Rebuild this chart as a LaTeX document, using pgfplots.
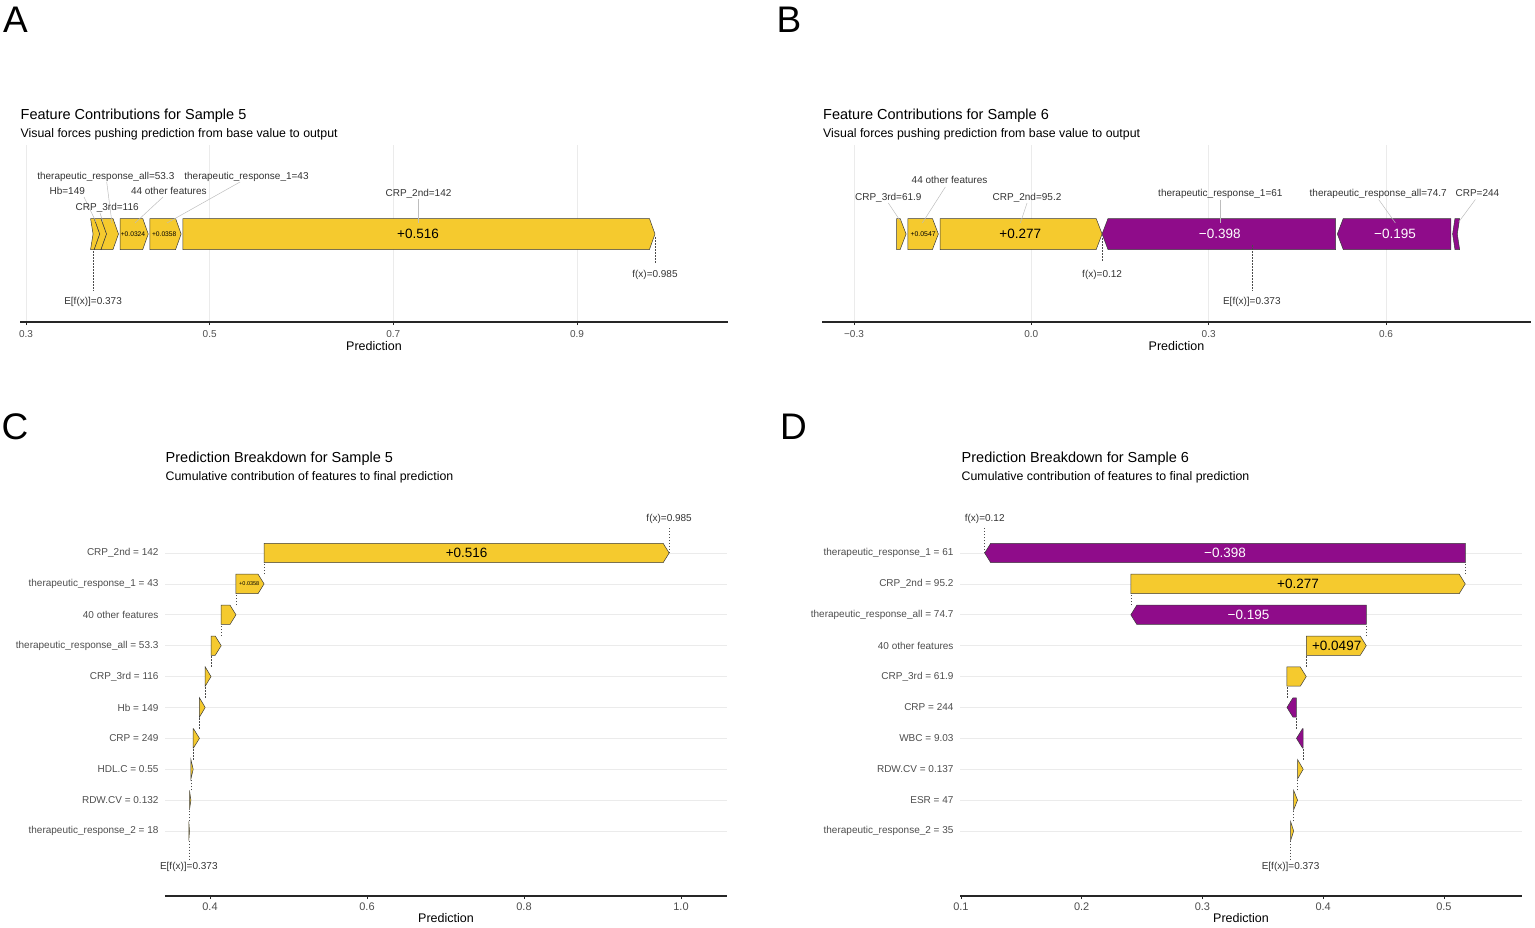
\documentclass[border=0pt]{standalone}
\usepackage{fontspec}
\setmainfont{Liberation Sans}
\usepackage{pgfplots}
\pgfplotsset{compat=1.18}

\definecolor{posc}{HTML}{F5CA2E}
\definecolor{negc}{HTML}{8F0C8A}
\definecolor{edgec}{HTML}{3A3A3A}
\definecolor{tickc}{HTML}{4D4D4D}
\definecolor{gridc}{HTML}{EBEBEB}
\definecolor{leadc}{HTML}{BDBDBD}

\newcommand\fsz[1]{\fontsize{#1}{#1}\selectfont}

% force plot segment pointing right: start, end, head, notch, gap at start
\newcommand\fpos[5]{%
  \pgfmathsetmacro\pa{#1+#5-#4}\pgfmathsetmacro\pc{#1+#5}\pgfmathsetmacro\pb{#2-#3}%
  \edef\tmp{\noexpand\addplot[fill=posc, draw=edgec, line width=0.5pt]
    coordinates {(\pa,-218.5) (\pb,-218.5) (#2,-234) (\pb,-249.5) (\pa,-249.5) (\pc,-234)} -- cycle;}\tmp}
% force plot segment pointing left: start (tip), end, head, notch, gap at end
\newcommand\fneg[5]{%
  \pgfmathsetmacro\pa{#1+#3}\pgfmathsetmacro\pb{#2-#5+#4}\pgfmathsetmacro\pc{#2-#5}%
  \edef\tmp{\noexpand\addplot[fill=negc, draw=edgec, line width=0.5pt]
    coordinates {(#1,-234) (\pa,-218.5) (\pb,-218.5) (\pc,-234) (\pb,-249.5) (\pa,-249.5)} -- cycle;}\tmp}
% waterfall bar: row, start, end, head, colour
\newcommand\wbar[5]{%
  \pgfmathsetmacro\wt{(#3>#2) ? (#3-min(#4,#3-#2)) : (#3+min(#4,#2-#3))}%
  \pgfmathsetmacro\wlo{#1-0.313}\pgfmathsetmacro\whi{#1+0.313}%
  \edef\tmp{\noexpand\addplot[fill=#5, draw=edgec, line width=0.5pt]
    coordinates {(#2,\wlo) (\wt,\wlo) (#3,#1) (\wt,\whi) (#2,\whi)} -- cycle;}\tmp}
% dotted link between row and row+1
\newcommand\wlink[2]{%
  \pgfmathsetmacro\wlo{#2+0.313}\pgfmathsetmacro\whi{#2+0.687}%
  \edef\tmp{\noexpand\addplot[dotc] coordinates {(#1,\wlo) (#1,\whi)};}\tmp}

\tikzset{lab/.style={font=\fsz{10}, text=black!80, inner sep=0pt, anchor=base},
  lead/.style={leadc, line width=0.5pt},
  dotc/.style={black!70, line width=0.6pt, dash pattern=on 1.5pt off 1.5pt}}

\pgfplotsset{
  panel/.style={
    scale only axis, anchor=south west, clip=false,
    axis x line*=bottom, axis y line*=left,
    y axis line style={draw=none}, ytick style={draw=none},
    x axis line style={line width=1.3pt, black!85},
    xtick style={black!85, line width=0.8pt},
    tick align=outside, major tick length=3pt,
    /pgf/number format/assume math mode=true,
    xlabel=Prediction,
    xlabel style={at={(axis description cs:0.5,0)}, anchor=base, font=\fsz{12.5}},
    grid style={gridc, line width=0.8pt},
  },
  force/.style={panel, xmajorgrids, ytick=\empty, height=177pt, width=708pt,
    ymin=-322, ymax=-145,
    xticklabel style={font=\fsz{10}, text=tickc, yshift=-1.5pt},
    xlabel style={yshift=-28.5pt}},
  water/.style={panel, ymajorgrids, ytick={0,...,9}, width=562pt, height=391pt,
    ymin=-2.104, ymax=10.554,
    xticklabel style={font=\fsz{11}, text=tickc},
    yticklabel style={font=\fsz{10}, text=tickc},
    xlabel style={yshift=-26.5pt}},
}

\begin{document}
\begin{tikzpicture}
\useasboundingbox (0,0) rectangle (1535pt,-927pt);

% ---------------- A ----------------
\begin{axis}[force, at={(20pt,-322pt)},
  xmin=0.29345, xmax=1.06444,
  xtick={0.3,0.5,0.7,0.9}, xticklabels={0.3,0.5,0.7,0.9}]
\fpos{0.3730}{0.3803}{0.0060}{0.0027}{0}
\fpos{0.3803}{0.3877}{0.0060}{0.0060}{0}
\fpos{0.3877}{0.4007}{0.0060}{0.0060}{0}
\fpos{0.4007}{0.4331}{0.0060}{0}{0.0018}
\fpos{0.4331}{0.4689}{0.0060}{0}{0.0018}
\fpos{0.4689}{0.9849}{0.0060}{0}{0.0018}
\node[font=\fsz{6.7}] at (axis cs:0.4165,-234) {+0.0324};
\node[font=\fsz{6.7}] at (axis cs:0.4505,-234) {+0.0358};
\node[font=\fsz{13.5}] at (axis cs:0.7269,-234) {+0.516};
\draw[lead] (axis cs:0.38787,-182) -- (axis cs:0.39364,-223);
\draw[lead] (axis cs:0.36315,-197) -- (axis cs:0.37622,-222);
\draw[lead] (axis cs:0.38057,-213) -- (axis cs:0.38384,-222);
\draw[lead] (axis cs:0.44918,-197) -- (axis cs:0.41869,-223);
\draw[lead] (axis cs:0.53303,-182) -- (axis cs:0.45353,-223);
\draw[lead] (axis cs:0.72741,-199) -- (axis cs:0.72741,-223);
\node[lab] at (axis cs:0.3869,-179.5) {therapeutic\_response\_all=53.3};
\node[lab] at (axis cs:0.3449,-194) {Hb=149};
\node[lab] at (axis cs:0.3884,-210.5) {CRP\_3rd=116};
\node[lab] at (axis cs:0.4555,-194) {44 other features};
\node[lab] at (axis cs:0.5401,-179.5) {therapeutic\_response\_1=43};
\node[lab] at (axis cs:0.7274,-196.5) {CRP\_2nd=142};
\draw[dotc] (axis cs:0.9849,-237) -- (axis cs:0.9849,-264);
\draw[dotc] (axis cs:0.373,-251) -- (axis cs:0.373,-291);
\node[lab] at (axis cs:0.9849,-277) {f(x)=0.985};
\node[lab] at (axis cs:0.373,-304) {E[f(x)]=0.373};
\end{axis}

% ---------------- B ----------------
\begin{axis}[force, at={(822pt,-322pt)}, width=709pt,
  xmin=-0.35415, xmax=0.84535,
  xtick={-0.3,0,0.3,0.6}, xticklabels={−0.3,0.0,0.3,0.6}]
\fpos{-0.2279}{-0.2119}{0.0100}{0}{0}
\fpos{-0.2119}{-0.1573}{0.0100}{0}{0.0029}
\fpos{-0.1573}{0.1197}{0.0100}{0}{0.0029}
\fneg{0.1197}{0.5177}{0.0100}{0}{0.0029}
\fneg{0.5177}{0.7127}{0.0100}{0}{0.0029}
\fneg{0.7127}{0.7206}{0.0040}{0.0040}{0}
\node[font=\fsz{6.9}] at (axis cs:-0.1830,-234) {+0.0547};
\node[font=\fsz{13.5}] at (axis cs:-0.0188,-234) {+0.277};
\node[font=\fsz{13.5}, text=white] at (axis cs:0.3187,-234) {−0.398};
\node[font=\fsz{13.5}, text=white] at (axis cs:0.6152,-234) {−0.195};
\draw[lead] (axis cs:-0.14552,-187) -- (axis cs:-0.18443,-223);
\draw[lead] (axis cs:-0.24196,-203) -- (axis cs:-0.22166,-221);
\draw[lead] (axis cs:-0.00728,-203) -- (axis cs:-0.01861,-223);
\draw[lead] (axis cs:0.31980,-199.5) -- (axis cs:0.31980,-223);
\draw[lead] (axis cs:0.58765,-199.5) -- (axis cs:0.61590,-223);
\draw[lead] (axis cs:0.75127,-199.5) -- (axis cs:0.72301,-222);
\node[lab] at (axis cs:-0.1384,-183.5) {44 other features};
\node[lab] at (axis cs:-0.2420,-200) {CRP\_3rd=61.9};
\node[lab] at (axis cs:-0.0073,-200) {CRP\_2nd=95.2};
\node[lab] at (axis cs:0.3198,-196.5) {therapeutic\_response\_1=61};
\node[lab] at (axis cs:0.5868,-196.5) {therapeutic\_response\_all=74.7};
\node[lab] at (axis cs:0.7547,-196.5) {CRP=244};
\draw[dotc] (axis cs:0.1197,-238) -- (axis cs:0.1197,-262);
\draw[dotc] (axis cs:0.373,-245) -- (axis cs:0.373,-291);
\node[lab] at (axis cs:0.1197,-277) {f(x)=0.12};
\node[lab] at (axis cs:0.373,-304) {E[f(x)]=0.373};
\end{axis}

% ---------------- C ----------------
\begin{axis}[water, at={(165pt,-896pt)},
  xmin=0.34268, xmax=1.0586,
  xtick={0.4,0.6,0.8,1.0}, xticklabels={0.4,0.6,0.8,1.0},
  yticklabels={therapeutic\_response\_2 = 18, RDW.CV = 0.132, HDL.C = 0.55,
    CRP = 249, Hb = 149, CRP\_3rd = 116, therapeutic\_response\_all = 53.3,
    40 other features, therapeutic\_response\_1 = 43, CRP\_2nd = 142}]
\wbar{0}{0.3730}{0.3739}{0.00764}{posc}
\wbar{1}{0.3739}{0.3757}{0.00764}{posc}
\wbar{2}{0.3757}{0.3786}{0.00764}{posc}
\wbar{3}{0.3786}{0.3866}{0.00764}{posc}
\wbar{4}{0.3866}{0.3939}{0.00764}{posc}
\wbar{5}{0.3939}{0.4013}{0.00764}{posc}
\wbar{6}{0.4013}{0.4143}{0.00764}{posc}
\wbar{7}{0.4143}{0.4331}{0.00764}{posc}
\wbar{8}{0.4331}{0.4689}{0.00764}{posc}
\wbar{9}{0.4689}{0.9849}{0.00764}{posc}
\wlink{0.3739}{0}\wlink{0.3757}{1}\wlink{0.3786}{2}\wlink{0.3866}{3}
\wlink{0.3939}{4}\wlink{0.4013}{5}\wlink{0.4143}{6}\wlink{0.4331}{7}
\wlink{0.4689}{8}
\draw[dotc] (axis cs:0.9849,9) -- (axis cs:0.9849,9.874);
\draw[dotc] (axis cs:0.373,-0.313) -- (axis cs:0.373,-0.906);
\node[font=\fsz{13.5}] at (axis cs:0.7269,9) {+0.516};
\node[font=\fsz{5.5}] at (axis cs:0.4500,8) {+0.0358};
\node[lab] at (axis cs:0.9849,10.019) {f(x)=0.985};
\node[lab] at (axis cs:0.373,-1.246) {E[f(x)]=0.373};
\end{axis}

% ---------------- D ----------------
\begin{axis}[water, at={(960pt,-896pt)},
  xmin=0.09925, xmax=0.56468,
  xtick={0.1,0.2,0.3,0.4,0.5}, xticklabels={0.1,0.2,0.3,0.4,0.5},
  yticklabels={therapeutic\_response\_2 = 35, ESR = 47, RDW.CV = 0.137,
    WBC = 9.03, CRP = 244, CRP\_3rd = 61.9, 40 other features,
    therapeutic\_response\_all = 74.7, CRP\_2nd = 95.2, therapeutic\_response\_1 = 61}]
\wbar{0}{0.3730}{0.3756}{0.00497}{posc}
\wbar{1}{0.3756}{0.3788}{0.00497}{posc}
\wbar{2}{0.3788}{0.3835}{0.00497}{posc}
\wbar{3}{0.3835}{0.3779}{0.00497}{negc}
\wbar{4}{0.3779}{0.3700}{0.00497}{negc}
\wbar{5}{0.3700}{0.3860}{0.00497}{posc}
\wbar{6}{0.3860}{0.4357}{0.00497}{posc}
\wbar{7}{0.4357}{0.2407}{0.00497}{negc}
\wbar{8}{0.2407}{0.5177}{0.00497}{posc}
\wbar{9}{0.5177}{0.1197}{0.00497}{negc}
\wlink{0.3756}{0}\wlink{0.3788}{1}\wlink{0.3835}{2}\wlink{0.3779}{3}
\wlink{0.3700}{4}\wlink{0.3860}{5}\wlink{0.4357}{6}\wlink{0.2407}{7}
\wlink{0.5177}{8}
\draw[dotc] (axis cs:0.1197,9) -- (axis cs:0.1197,9.874);
\draw[dotc] (axis cs:0.373,-0.313) -- (axis cs:0.373,-0.906);
\node[font=\fsz{13.5}, text=white] at (axis cs:0.3187,9) {−0.398};
\node[font=\fsz{13.5}] at (axis cs:0.3792,8) {+0.277};
\node[font=\fsz{13.5}, text=white] at (axis cs:0.3382,7) {−0.195};
\node[font=\fsz{13.5}] at (axis cs:0.4112,6) {+0.0497};
\node[lab] at (axis cs:0.1197,10.019) {f(x)=0.12};
\node[lab] at (axis cs:0.373,-1.246) {E[f(x)]=0.373};
\end{axis}

% ---------------- titles and panel letters ----------------
\tikzset{ttl/.style={anchor=base west, inner sep=0pt, font=\fsz{14.5}},
  sub/.style={anchor=base west, inner sep=0pt, font=\fsz{12.35}},
  let/.style={anchor=base west, inner sep=0pt, font=\fsz{37}}}
\node[ttl] at (20.5pt,-119pt) {Feature Contributions for Sample 5};
\node[sub] at (20.5pt,-137pt) {Visual forces pushing prediction from base value to output};
\node[ttl] at (823pt,-119pt) {Feature Contributions for Sample 6};
\node[sub] at (823pt,-137pt) {Visual forces pushing prediction from base value to output};
\node[ttl] at (165.5pt,-462pt) {Prediction Breakdown for Sample 5};
\node[sub] at (165.5pt,-480pt) {Cumulative contribution of features to final prediction};
\node[ttl] at (961.5pt,-462pt) {Prediction Breakdown for Sample 6};
\node[sub] at (961.5pt,-480pt) {Cumulative contribution of features to final prediction};
\node[let] at (3pt,-32pt) {A};
\node[let] at (776.5pt,-32pt) {B};
\node[let] at (1.5pt,-439pt) {C};
\node[let] at (780pt,-439pt) {D};
\end{tikzpicture}
\end{document}
